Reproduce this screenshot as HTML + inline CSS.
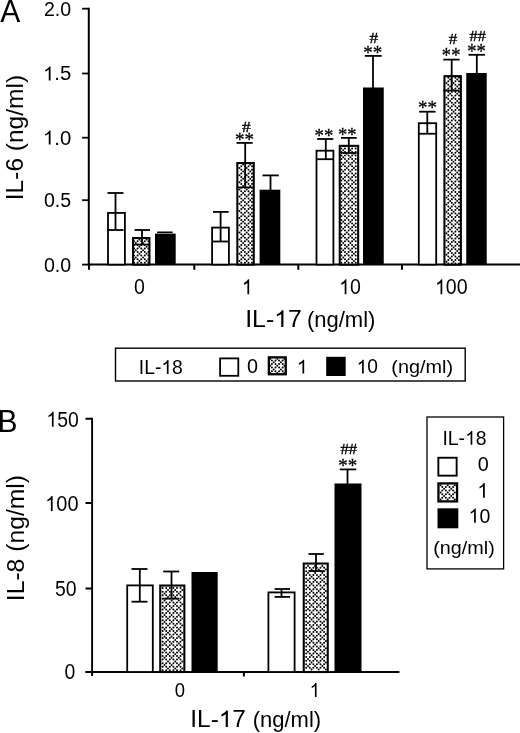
<!DOCTYPE html>
<html><head><meta charset="utf-8"><title>Figure</title>
<style>
html,body{margin:0;padding:0;background:#fff;}
body{width:520px;height:733px;overflow:hidden;font-family:"Liberation Sans",sans-serif;}
svg{display:block;will-change:transform;}
text{fill:#000;}
</style></head><body>
<svg width="520" height="733" viewBox="0 0 520 733">
<rect width="520" height="733" fill="#fff"/>

<text transform="translate(0.3,21.6) scale(1,1.06)" font-size="30" text-anchor="start" font-family='"Liberation Sans", sans-serif' >A</text>
<line x1="88.8" y1="7.85" x2="88.8" y2="265.6" stroke="#000" stroke-width="2" />
<line x1="87.8" y1="264.6" x2="520" y2="264.6" stroke="#000" stroke-width="2" />
<line x1="82.1" y1="8.7" x2="88.8" y2="8.7" stroke="#000" stroke-width="1.8" />
<text transform="translate(71.2,15.6) scale(0.965,1)" font-size="20.3" text-anchor="end" font-family='"Liberation Sans", sans-serif' >2.0</text>
<line x1="82.1" y1="73.5" x2="88.8" y2="73.5" stroke="#000" stroke-width="1.8" />
<g transform="translate(71.2,80.4) scale(1.0,1) translate(-28.217,0)" ><path transform="translate(0,0) scale(20.3)" d="M0.3726,0H0.2847V-0.5377Q0.2529,-0.5086,0.2014,-0.4795Q0.1499,-0.4504,0.1089,-0.4359V-0.5175Q0.1826,-0.5508,0.2378,-0.5981Q0.293,-0.6455,0.3159,-0.69H0.3726Z"/><text x="11.287" y="0" font-size="20.3" font-family='"Liberation Sans", sans-serif' xml:space="preserve">.5</text></g>
<line x1="82.1" y1="137.7" x2="88.8" y2="137.7" stroke="#000" stroke-width="1.8" />
<g transform="translate(71.2,144.6) scale(1.0,1) translate(-28.217,0)" ><path transform="translate(0,0) scale(20.3)" d="M0.3726,0H0.2847V-0.5377Q0.2529,-0.5086,0.2014,-0.4795Q0.1499,-0.4504,0.1089,-0.4359V-0.5175Q0.1826,-0.5508,0.2378,-0.5981Q0.293,-0.6455,0.3159,-0.69H0.3726Z"/><text x="11.287" y="0" font-size="20.3" font-family='"Liberation Sans", sans-serif' xml:space="preserve">.0</text></g>
<line x1="82.1" y1="200.2" x2="88.8" y2="200.2" stroke="#000" stroke-width="1.8" />
<text transform="translate(71.2,207.1) scale(0.965,1)" font-size="20.3" text-anchor="end" font-family='"Liberation Sans", sans-serif' >0.5</text>
<line x1="82.1" y1="264.6" x2="88.8" y2="264.6" stroke="#000" stroke-width="1.8" />
<text transform="translate(71.2,271.5) scale(0.965,1)" font-size="20.3" text-anchor="end" font-family='"Liberation Sans", sans-serif' >0.0</text>
<line x1="89" y1="264.6" x2="89" y2="269.8" stroke="#000" stroke-width="2" />
<line x1="194.3" y1="264.6" x2="194.3" y2="269.8" stroke="#000" stroke-width="2" />
<line x1="298.3" y1="264.6" x2="298.3" y2="269.8" stroke="#000" stroke-width="2" />
<line x1="402" y1="264.6" x2="402" y2="269.8" stroke="#000" stroke-width="2" />
<text transform="translate(139.5,294.2) scale(0.91,1)" font-size="21.5" text-anchor="middle" font-family='"Liberation Sans", sans-serif' >0</text>
<g transform="translate(247.3,294.2) scale(0.91,1) translate(-5.977,0)" ><path transform="translate(0,0) scale(21.5)" d="M0.3726,0H0.2847V-0.5377Q0.2529,-0.5086,0.2014,-0.4795Q0.1499,-0.4504,0.1089,-0.4359V-0.5175Q0.1826,-0.5508,0.2378,-0.5981Q0.293,-0.6455,0.3159,-0.69H0.3726Z"/></g>
<g transform="translate(350,294.2) scale(0.91,1) translate(-11.954,0)" ><path transform="translate(0,0) scale(21.5)" d="M0.3726,0H0.2847V-0.5377Q0.2529,-0.5086,0.2014,-0.4795Q0.1499,-0.4504,0.1089,-0.4359V-0.5175Q0.1826,-0.5508,0.2378,-0.5981Q0.293,-0.6455,0.3159,-0.69H0.3726Z"/><text x="11.954" y="0" font-size="21.5" font-family='"Liberation Sans", sans-serif' xml:space="preserve">0</text></g>
<g transform="translate(451.3,294.2) scale(0.91,1) translate(-17.931,0)" ><path transform="translate(0,0) scale(21.5)" d="M0.3726,0H0.2847V-0.5377Q0.2529,-0.5086,0.2014,-0.4795Q0.1499,-0.4504,0.1089,-0.4359V-0.5175Q0.1826,-0.5508,0.2378,-0.5981Q0.293,-0.6455,0.3159,-0.69H0.3726Z"/><text x="11.954" y="0" font-size="21.5" font-family='"Liberation Sans", sans-serif' xml:space="preserve">00</text></g>
<text transform="translate(22.7,200.2) rotate(-90)" font-size="24.5" font-family='"Liberation Sans", sans-serif'>IL-6 (ng/ml)</text>
<g transform="translate(245.16,326.9) scale(1.033,1) translate(0,0)" ><text x="0" y="0" font-size="24.06" font-family='"Liberation Sans", sans-serif' xml:space="preserve">IL-</text><path transform="translate(28.078,0) scale(24.06)" d="M0.3726,0H0.2847V-0.5377Q0.2529,-0.5086,0.2014,-0.4795Q0.1499,-0.4504,0.1089,-0.4359V-0.5175Q0.1826,-0.5508,0.2378,-0.5981Q0.293,-0.6455,0.3159,-0.69H0.3726Z"/><text x="41.455" y="0" font-size="24.06" font-family='"Liberation Sans", sans-serif' xml:space="preserve">7</text></g>
<text transform="translate(306.88,327.33) scale(1.036,1)" font-size="21.28" text-anchor="start" font-family='"Liberation Sans", sans-serif' >(ng/ml)</text>
<rect x="108.0" y="212.9" width="16.9" height="51.7" fill="#fff" stroke="#000" stroke-width="1.8"/>
<line x1="115.5" y1="193" x2="115.5" y2="230" stroke="#000" stroke-width="1.8" />
<line x1="107.5" y1="193" x2="123.5" y2="193" stroke="#000" stroke-width="1.8" />
<line x1="107.5" y1="230" x2="123.5" y2="230" stroke="#000" stroke-width="1.8" />
<rect x="133.05" y="238.05" width="16.4" height="26.55" fill="#fff"/>
<path d="M139.4,239.5h0M146.6,239.5h0M134.1,241.3h0M137.6,241.3h0M141.2,241.3h0M144.8,241.3h0M148.4,241.3h0M135.8,243.1h0M143.0,243.1h0M134.1,244.9h0M137.6,244.9h0M141.2,244.9h0M144.8,244.9h0M148.4,244.9h0M139.4,246.7h0M146.6,246.7h0M134.1,248.5h0M137.6,248.5h0M141.2,248.5h0M144.8,248.5h0M148.4,248.5h0M135.8,250.2h0M143.0,250.2h0M134.1,252.0h0M137.6,252.0h0M141.2,252.0h0M144.8,252.0h0M148.4,252.0h0M139.4,253.8h0M146.6,253.8h0M134.1,255.6h0M137.6,255.6h0M141.2,255.6h0M144.8,255.6h0M148.4,255.6h0M135.8,257.4h0M143.0,257.4h0M134.1,259.2h0M137.6,259.2h0M141.2,259.2h0M144.8,259.2h0M148.4,259.2h0M139.4,261.0h0M146.6,261.0h0M134.1,262.8h0M137.6,262.8h0M141.2,262.8h0M144.8,262.8h0M148.4,262.8h0" stroke="#000" stroke-width="2.0" stroke-linecap="round" fill="none"/>
<rect x="133.05" y="238.05" width="16.4" height="26.55" fill="none" stroke="#000" stroke-width="2.1"/>
<line x1="142" y1="230" x2="142" y2="244.5" stroke="#000" stroke-width="1.8" />
<line x1="134.5" y1="230" x2="150" y2="230" stroke="#000" stroke-width="1.8" />
<line x1="134.5" y1="244.5" x2="150" y2="244.5" stroke="#000" stroke-width="1.8" />
<rect x="155" y="233.6" width="20.7" height="31.0" fill="#000"/>
<line x1="157.1" y1="232.3" x2="172.7" y2="232.3" stroke="#000" stroke-width="1.6" />
<rect x="212.1" y="227.6" width="16.8" height="37.0" fill="#fff" stroke="#000" stroke-width="1.8"/>
<line x1="220.6" y1="211.9" x2="220.6" y2="241.5" stroke="#000" stroke-width="1.8" />
<line x1="213" y1="211.9" x2="228.6" y2="211.9" stroke="#000" stroke-width="1.8" />
<line x1="213" y1="241.5" x2="228.6" y2="241.5" stroke="#000" stroke-width="1.8" />
<rect x="237.35" y="163.05" width="16.4" height="101.55" fill="#fff"/>
<path d="M243.1,164.5h0M250.2,164.5h0M241.3,166.2h0M244.9,166.2h0M248.5,166.2h0M252.0,166.2h0M239.5,168.0h0M246.7,168.0h0M241.3,169.8h0M244.9,169.8h0M248.5,169.8h0M252.0,169.8h0M243.1,171.6h0M250.2,171.6h0M241.3,173.4h0M244.9,173.4h0M248.5,173.4h0M252.0,173.4h0M239.5,175.2h0M246.7,175.2h0M241.3,177.0h0M244.9,177.0h0M248.5,177.0h0M252.0,177.0h0M243.1,178.8h0M250.2,178.8h0M241.3,180.5h0M244.9,180.5h0M248.5,180.5h0M252.0,180.5h0M239.5,182.3h0M246.7,182.3h0M241.3,184.1h0M244.9,184.1h0M248.5,184.1h0M252.0,184.1h0M243.1,185.9h0M250.2,185.9h0M241.3,187.7h0M244.9,187.7h0M248.5,187.7h0M252.0,187.7h0M239.5,189.5h0M246.7,189.5h0M241.3,191.3h0M244.9,191.3h0M248.5,191.3h0M252.0,191.3h0M243.1,193.1h0M250.2,193.1h0M241.3,194.8h0M244.9,194.8h0M248.5,194.8h0M252.0,194.8h0M239.5,196.6h0M246.7,196.6h0M241.3,198.4h0M244.9,198.4h0M248.5,198.4h0M252.0,198.4h0M243.1,200.2h0M250.2,200.2h0M241.3,202.0h0M244.9,202.0h0M248.5,202.0h0M252.0,202.0h0M239.5,203.8h0M246.7,203.8h0M241.3,205.6h0M244.9,205.6h0M248.5,205.6h0M252.0,205.6h0M243.1,207.4h0M250.2,207.4h0M241.3,209.1h0M244.9,209.1h0M248.5,209.1h0M252.0,209.1h0M239.5,210.9h0M246.7,210.9h0M241.3,212.7h0M244.9,212.7h0M248.5,212.7h0M252.0,212.7h0M243.1,214.5h0M250.2,214.5h0M241.3,216.3h0M244.9,216.3h0M248.5,216.3h0M252.0,216.3h0M239.5,218.1h0M246.7,218.1h0M241.3,219.9h0M244.9,219.9h0M248.5,219.9h0M252.0,219.9h0M243.1,221.7h0M250.2,221.7h0M241.3,223.4h0M244.9,223.4h0M248.5,223.4h0M252.0,223.4h0M239.5,225.2h0M246.7,225.2h0M241.3,227.0h0M244.9,227.0h0M248.5,227.0h0M252.0,227.0h0M243.1,228.8h0M250.2,228.8h0M241.3,230.6h0M244.9,230.6h0M248.5,230.6h0M252.0,230.6h0M239.5,232.4h0M246.7,232.4h0M241.3,234.2h0M244.9,234.2h0M248.5,234.2h0M252.0,234.2h0M243.1,236.0h0M250.2,236.0h0M241.3,237.7h0M244.9,237.7h0M248.5,237.7h0M252.0,237.7h0M239.5,239.5h0M246.7,239.5h0M241.3,241.3h0M244.9,241.3h0M248.5,241.3h0M252.0,241.3h0M243.1,243.1h0M250.2,243.1h0M241.3,244.9h0M244.9,244.9h0M248.5,244.9h0M252.0,244.9h0M239.5,246.7h0M246.7,246.7h0M241.3,248.5h0M244.9,248.5h0M248.5,248.5h0M252.0,248.5h0M243.1,250.2h0M250.2,250.2h0M241.3,252.0h0M244.9,252.0h0M248.5,252.0h0M252.0,252.0h0M239.5,253.8h0M246.7,253.8h0M241.3,255.6h0M244.9,255.6h0M248.5,255.6h0M252.0,255.6h0M243.1,257.4h0M250.2,257.4h0M241.3,259.2h0M244.9,259.2h0M248.5,259.2h0M252.0,259.2h0M239.5,261.0h0M246.7,261.0h0M241.3,262.8h0M244.9,262.8h0M248.5,262.8h0M252.0,262.8h0" stroke="#000" stroke-width="2.0" stroke-linecap="round" fill="none"/>
<rect x="237.35" y="163.05" width="16.4" height="101.55" fill="none" stroke="#000" stroke-width="2.1"/>
<line x1="245.2" y1="142.9" x2="245.2" y2="187.4" stroke="#000" stroke-width="1.8" />
<line x1="236.5" y1="142.9" x2="252.7" y2="142.9" stroke="#000" stroke-width="1.8" />
<line x1="236.5" y1="187.4" x2="252.7" y2="187.4" stroke="#000" stroke-width="1.8" />
<rect x="259.6" y="189.7" width="20.7" height="74.9" fill="#000"/>
<line x1="270.5" y1="175.4" x2="270.5" y2="190" stroke="#000" stroke-width="1.8" />
<line x1="262.5" y1="175.4" x2="278.8" y2="175.4" stroke="#000" stroke-width="1.8" />
<rect x="316.5" y="150.7" width="16.9" height="113.9" fill="#fff" stroke="#000" stroke-width="1.8"/>
<line x1="325.8" y1="139" x2="325.8" y2="159.2" stroke="#000" stroke-width="1.8" />
<line x1="317.1" y1="139" x2="333.3" y2="139" stroke="#000" stroke-width="1.8" />
<line x1="317.1" y1="159.2" x2="333.3" y2="159.2" stroke="#000" stroke-width="1.8" />
<rect x="339.75" y="145.85" width="18.4" height="118.75" fill="#fff"/>
<path d="M341.4,148.4h0M345.0,148.4h0M348.6,148.4h0M352.1,148.4h0M355.7,148.4h0M343.2,150.2h0M350.4,150.2h0M341.4,151.9h0M345.0,151.9h0M348.6,151.9h0M352.1,151.9h0M355.7,151.9h0M346.8,153.7h0M353.9,153.7h0M341.4,155.5h0M345.0,155.5h0M348.6,155.5h0M352.1,155.5h0M355.7,155.5h0M343.2,157.3h0M350.4,157.3h0M341.4,159.1h0M345.0,159.1h0M348.6,159.1h0M352.1,159.1h0M355.7,159.1h0M346.8,160.9h0M353.9,160.9h0M341.4,162.7h0M345.0,162.7h0M348.6,162.7h0M352.1,162.7h0M355.7,162.7h0M343.2,164.5h0M350.4,164.5h0M341.4,166.2h0M345.0,166.2h0M348.6,166.2h0M352.1,166.2h0M355.7,166.2h0M346.8,168.0h0M353.9,168.0h0M341.4,169.8h0M345.0,169.8h0M348.6,169.8h0M352.1,169.8h0M355.7,169.8h0M343.2,171.6h0M350.4,171.6h0M341.4,173.4h0M345.0,173.4h0M348.6,173.4h0M352.1,173.4h0M355.7,173.4h0M346.8,175.2h0M353.9,175.2h0M341.4,177.0h0M345.0,177.0h0M348.6,177.0h0M352.1,177.0h0M355.7,177.0h0M343.2,178.8h0M350.4,178.8h0M341.4,180.5h0M345.0,180.5h0M348.6,180.5h0M352.1,180.5h0M355.7,180.5h0M346.8,182.3h0M353.9,182.3h0M341.4,184.1h0M345.0,184.1h0M348.6,184.1h0M352.1,184.1h0M355.7,184.1h0M343.2,185.9h0M350.4,185.9h0M341.4,187.7h0M345.0,187.7h0M348.6,187.7h0M352.1,187.7h0M355.7,187.7h0M346.8,189.5h0M353.9,189.5h0M341.4,191.3h0M345.0,191.3h0M348.6,191.3h0M352.1,191.3h0M355.7,191.3h0M343.2,193.1h0M350.4,193.1h0M341.4,194.8h0M345.0,194.8h0M348.6,194.8h0M352.1,194.8h0M355.7,194.8h0M346.8,196.6h0M353.9,196.6h0M341.4,198.4h0M345.0,198.4h0M348.6,198.4h0M352.1,198.4h0M355.7,198.4h0M343.2,200.2h0M350.4,200.2h0M341.4,202.0h0M345.0,202.0h0M348.6,202.0h0M352.1,202.0h0M355.7,202.0h0M346.8,203.8h0M353.9,203.8h0M341.4,205.6h0M345.0,205.6h0M348.6,205.6h0M352.1,205.6h0M355.7,205.6h0M343.2,207.4h0M350.4,207.4h0M341.4,209.1h0M345.0,209.1h0M348.6,209.1h0M352.1,209.1h0M355.7,209.1h0M346.8,210.9h0M353.9,210.9h0M341.4,212.7h0M345.0,212.7h0M348.6,212.7h0M352.1,212.7h0M355.7,212.7h0M343.2,214.5h0M350.4,214.5h0M341.4,216.3h0M345.0,216.3h0M348.6,216.3h0M352.1,216.3h0M355.7,216.3h0M346.8,218.1h0M353.9,218.1h0M341.4,219.9h0M345.0,219.9h0M348.6,219.9h0M352.1,219.9h0M355.7,219.9h0M343.2,221.7h0M350.4,221.7h0M341.4,223.4h0M345.0,223.4h0M348.6,223.4h0M352.1,223.4h0M355.7,223.4h0M346.8,225.2h0M353.9,225.2h0M341.4,227.0h0M345.0,227.0h0M348.6,227.0h0M352.1,227.0h0M355.7,227.0h0M343.2,228.8h0M350.4,228.8h0M341.4,230.6h0M345.0,230.6h0M348.6,230.6h0M352.1,230.6h0M355.7,230.6h0M346.8,232.4h0M353.9,232.4h0M341.4,234.2h0M345.0,234.2h0M348.6,234.2h0M352.1,234.2h0M355.7,234.2h0M343.2,236.0h0M350.4,236.0h0M341.4,237.7h0M345.0,237.7h0M348.6,237.7h0M352.1,237.7h0M355.7,237.7h0M346.8,239.5h0M353.9,239.5h0M341.4,241.3h0M345.0,241.3h0M348.6,241.3h0M352.1,241.3h0M355.7,241.3h0M343.2,243.1h0M350.4,243.1h0M341.4,244.9h0M345.0,244.9h0M348.6,244.9h0M352.1,244.9h0M355.7,244.9h0M346.8,246.7h0M353.9,246.7h0M341.4,248.5h0M345.0,248.5h0M348.6,248.5h0M352.1,248.5h0M355.7,248.5h0M343.2,250.2h0M350.4,250.2h0M341.4,252.0h0M345.0,252.0h0M348.6,252.0h0M352.1,252.0h0M355.7,252.0h0M346.8,253.8h0M353.9,253.8h0M341.4,255.6h0M345.0,255.6h0M348.6,255.6h0M352.1,255.6h0M355.7,255.6h0M343.2,257.4h0M350.4,257.4h0M341.4,259.2h0M345.0,259.2h0M348.6,259.2h0M352.1,259.2h0M355.7,259.2h0M346.8,261.0h0M353.9,261.0h0M341.4,262.8h0M345.0,262.8h0M348.6,262.8h0M352.1,262.8h0M355.7,262.8h0" stroke="#000" stroke-width="2.0" stroke-linecap="round" fill="none"/>
<rect x="339.75" y="145.85" width="18.4" height="118.75" fill="none" stroke="#000" stroke-width="2.1"/>
<line x1="348.8" y1="137.9" x2="348.8" y2="153" stroke="#000" stroke-width="1.8" />
<line x1="341" y1="137.9" x2="356.7" y2="137.9" stroke="#000" stroke-width="1.8" />
<line x1="341" y1="153" x2="356.7" y2="153" stroke="#000" stroke-width="1.8" />
<rect x="363" y="87.5" width="20.75" height="177.1" fill="#000"/>
<line x1="373" y1="55.9" x2="373" y2="88" stroke="#000" stroke-width="1.8" />
<line x1="364.8" y1="55.9" x2="381.7" y2="55.9" stroke="#000" stroke-width="1.8" />
<rect x="418.8" y="123.2" width="17.4" height="141.4" fill="#fff" stroke="#000" stroke-width="1.8"/>
<line x1="427.3" y1="111.7" x2="427.3" y2="133.75" stroke="#000" stroke-width="1.8" />
<line x1="419.1" y1="111.7" x2="435.6" y2="111.7" stroke="#000" stroke-width="1.8" />
<line x1="419.1" y1="133.75" x2="435.6" y2="133.75" stroke="#000" stroke-width="1.8" />
<rect x="444.45" y="76.15" width="16.4" height="188.45" fill="#fff"/>
<path d="M448.3,77.7h0M451.8,77.7h0M455.4,77.7h0M459.0,77.7h0M450.1,79.5h0M457.2,79.5h0M448.3,81.3h0M451.8,81.3h0M455.4,81.3h0M459.0,81.3h0M446.5,83.1h0M453.6,83.1h0M448.3,84.8h0M451.8,84.8h0M455.4,84.8h0M459.0,84.8h0M450.1,86.6h0M457.2,86.6h0M448.3,88.4h0M451.8,88.4h0M455.4,88.4h0M459.0,88.4h0M446.5,90.2h0M453.6,90.2h0M448.3,92.0h0M451.8,92.0h0M455.4,92.0h0M459.0,92.0h0M450.1,93.8h0M457.2,93.8h0M448.3,95.6h0M451.8,95.6h0M455.4,95.6h0M459.0,95.6h0M446.5,97.4h0M453.6,97.4h0M448.3,99.1h0M451.8,99.1h0M455.4,99.1h0M459.0,99.1h0M450.1,100.9h0M457.2,100.9h0M448.3,102.7h0M451.8,102.7h0M455.4,102.7h0M459.0,102.7h0M446.5,104.5h0M453.6,104.5h0M448.3,106.3h0M451.8,106.3h0M455.4,106.3h0M459.0,106.3h0M450.1,108.1h0M457.2,108.1h0M448.3,109.9h0M451.8,109.9h0M455.4,109.9h0M459.0,109.9h0M446.5,111.7h0M453.6,111.7h0M448.3,113.4h0M451.8,113.4h0M455.4,113.4h0M459.0,113.4h0M450.1,115.2h0M457.2,115.2h0M448.3,117.0h0M451.8,117.0h0M455.4,117.0h0M459.0,117.0h0M446.5,118.8h0M453.6,118.8h0M448.3,120.6h0M451.8,120.6h0M455.4,120.6h0M459.0,120.6h0M450.1,122.4h0M457.2,122.4h0M448.3,124.2h0M451.8,124.2h0M455.4,124.2h0M459.0,124.2h0M446.5,126.0h0M453.6,126.0h0M448.3,127.7h0M451.8,127.7h0M455.4,127.7h0M459.0,127.7h0M450.1,129.5h0M457.2,129.5h0M448.3,131.3h0M451.8,131.3h0M455.4,131.3h0M459.0,131.3h0M446.5,133.1h0M453.6,133.1h0M448.3,134.9h0M451.8,134.9h0M455.4,134.9h0M459.0,134.9h0M450.1,136.7h0M457.2,136.7h0M448.3,138.5h0M451.8,138.5h0M455.4,138.5h0M459.0,138.5h0M446.5,140.3h0M453.6,140.3h0M448.3,142.0h0M451.8,142.0h0M455.4,142.0h0M459.0,142.0h0M450.1,143.8h0M457.2,143.8h0M448.3,145.6h0M451.8,145.6h0M455.4,145.6h0M459.0,145.6h0M446.5,147.4h0M453.6,147.4h0M448.3,149.2h0M451.8,149.2h0M455.4,149.2h0M459.0,149.2h0M450.1,151.0h0M457.2,151.0h0M448.3,152.8h0M451.8,152.8h0M455.4,152.8h0M459.0,152.8h0M446.5,154.6h0M453.6,154.6h0M448.3,156.3h0M451.8,156.3h0M455.4,156.3h0M459.0,156.3h0M450.1,158.1h0M457.2,158.1h0M448.3,159.9h0M451.8,159.9h0M455.4,159.9h0M459.0,159.9h0M446.5,161.7h0M453.6,161.7h0M448.3,163.5h0M451.8,163.5h0M455.4,163.5h0M459.0,163.5h0M450.1,165.3h0M457.2,165.3h0M448.3,167.1h0M451.8,167.1h0M455.4,167.1h0M459.0,167.1h0M446.5,168.9h0M453.6,168.9h0M448.3,170.6h0M451.8,170.6h0M455.4,170.6h0M459.0,170.6h0M450.1,172.4h0M457.2,172.4h0M448.3,174.2h0M451.8,174.2h0M455.4,174.2h0M459.0,174.2h0M446.5,176.0h0M453.6,176.0h0M448.3,177.8h0M451.8,177.8h0M455.4,177.8h0M459.0,177.8h0M450.1,179.6h0M457.2,179.6h0M448.3,181.4h0M451.8,181.4h0M455.4,181.4h0M459.0,181.4h0M446.5,183.2h0M453.6,183.2h0M448.3,184.9h0M451.8,184.9h0M455.4,184.9h0M459.0,184.9h0M450.1,186.7h0M457.2,186.7h0M448.3,188.5h0M451.8,188.5h0M455.4,188.5h0M459.0,188.5h0M446.5,190.3h0M453.6,190.3h0M448.3,192.1h0M451.8,192.1h0M455.4,192.1h0M459.0,192.1h0M450.1,193.9h0M457.2,193.9h0M448.3,195.7h0M451.8,195.7h0M455.4,195.7h0M459.0,195.7h0M446.5,197.5h0M453.6,197.5h0M448.3,199.2h0M451.8,199.2h0M455.4,199.2h0M459.0,199.2h0M450.1,201.0h0M457.2,201.0h0M448.3,202.8h0M451.8,202.8h0M455.4,202.8h0M459.0,202.8h0M446.5,204.6h0M453.6,204.6h0M448.3,206.4h0M451.8,206.4h0M455.4,206.4h0M459.0,206.4h0M450.1,208.2h0M457.2,208.2h0M448.3,210.0h0M451.8,210.0h0M455.4,210.0h0M459.0,210.0h0M446.5,211.8h0M453.6,211.8h0M448.3,213.5h0M451.8,213.5h0M455.4,213.5h0M459.0,213.5h0M450.1,215.3h0M457.2,215.3h0M448.3,217.1h0M451.8,217.1h0M455.4,217.1h0M459.0,217.1h0M446.5,218.9h0M453.6,218.9h0M448.3,220.7h0M451.8,220.7h0M455.4,220.7h0M459.0,220.7h0M450.1,222.5h0M457.2,222.5h0M448.3,224.3h0M451.8,224.3h0M455.4,224.3h0M459.0,224.3h0M446.5,226.1h0M453.6,226.1h0M448.3,227.8h0M451.8,227.8h0M455.4,227.8h0M459.0,227.8h0M450.1,229.6h0M457.2,229.6h0M448.3,231.4h0M451.8,231.4h0M455.4,231.4h0M459.0,231.4h0M446.5,233.2h0M453.6,233.2h0M448.3,235.0h0M451.8,235.0h0M455.4,235.0h0M459.0,235.0h0M450.1,236.8h0M457.2,236.8h0M448.3,238.6h0M451.8,238.6h0M455.4,238.6h0M459.0,238.6h0M446.5,240.4h0M453.6,240.4h0M448.3,242.1h0M451.8,242.1h0M455.4,242.1h0M459.0,242.1h0M450.1,243.9h0M457.2,243.9h0M448.3,245.7h0M451.8,245.7h0M455.4,245.7h0M459.0,245.7h0M446.5,247.5h0M453.6,247.5h0M448.3,249.3h0M451.8,249.3h0M455.4,249.3h0M459.0,249.3h0M450.1,251.1h0M457.2,251.1h0M448.3,252.9h0M451.8,252.9h0M455.4,252.9h0M459.0,252.9h0M446.5,254.7h0M453.6,254.7h0M448.3,256.4h0M451.8,256.4h0M455.4,256.4h0M459.0,256.4h0M450.1,258.2h0M457.2,258.2h0M448.3,260.0h0M451.8,260.0h0M455.4,260.0h0M459.0,260.0h0M446.5,261.8h0M453.6,261.8h0M448.3,263.6h0M451.8,263.6h0M455.4,263.6h0M459.0,263.6h0" stroke="#000" stroke-width="2.0" stroke-linecap="round" fill="none"/>
<rect x="444.45" y="76.15" width="16.4" height="188.45" fill="none" stroke="#000" stroke-width="2.1"/>
<line x1="451.7" y1="59.6" x2="451.7" y2="90.6" stroke="#000" stroke-width="1.8" />
<line x1="443.3" y1="59.6" x2="459.6" y2="59.6" stroke="#000" stroke-width="1.8" />
<line x1="443.3" y1="90.6" x2="459.6" y2="90.6" stroke="#000" stroke-width="1.8" />
<rect x="466.25" y="73" width="20.5" height="191.6" fill="#000"/>
<line x1="476.8" y1="54.8" x2="476.8" y2="74" stroke="#000" stroke-width="1.8" />
<line x1="468.5" y1="54.8" x2="485" y2="54.8" stroke="#000" stroke-width="1.8" />
<text transform="translate(234.95,146.09) scale(1.005,1)" font-size="18.9" text-anchor="start" font-family='"Liberation Serif", serif' stroke="#000" stroke-width="0.3">**</text>
<text transform="translate(242.06,132.2) scale(1.188,1)" font-size="14.46" text-anchor="start" font-family='"Liberation Serif", serif' stroke="#000" stroke-width="0.35">#</text>
<text transform="translate(314.56,142.39) scale(0.993,1)" font-size="18.9" text-anchor="start" font-family='"Liberation Serif", serif' stroke="#000" stroke-width="0.3">**</text>
<text transform="translate(338.07,140.92) scale(0.941,1)" font-size="19.73" text-anchor="start" font-family='"Liberation Serif", serif' stroke="#000" stroke-width="0.3">**</text>
<text transform="translate(363.35,59.12) scale(0.963,1)" font-size="19.73" text-anchor="start" font-family='"Liberation Serif", serif' stroke="#000" stroke-width="0.3">**</text>
<text transform="translate(369.55,42.6) scale(1.154,1)" font-size="15.08" text-anchor="start" font-family='"Liberation Serif", serif' stroke="#000" stroke-width="0.35">#</text>
<text transform="translate(417.96,113.71) scale(1.014,1)" font-size="18.63" text-anchor="start" font-family='"Liberation Serif", serif' stroke="#000" stroke-width="0.3">**</text>
<text transform="translate(441.87,62.18) scale(0.915,1)" font-size="20.27" text-anchor="start" font-family='"Liberation Serif", serif' stroke="#000" stroke-width="0.3">**</text>
<text transform="translate(448.76,44.3) scale(1.125,1)" font-size="15.08" text-anchor="start" font-family='"Liberation Serif", serif' stroke="#000" stroke-width="0.35">#</text>
<text transform="translate(467.27,57.66) scale(0.903,1)" font-size="20.55" text-anchor="start" font-family='"Liberation Serif", serif' stroke="#000" stroke-width="0.3">**</text>
<text transform="translate(469.58,40.9) scale(1.078,1)" font-size="15.08" text-anchor="start" font-family='"Liberation Serif", serif' stroke="#000" stroke-width="0.35">##</text>
<rect x="115.5" y="348.2" width="349.7" height="32.8" fill="#fff" stroke="#000" stroke-width="1.4"/>
<g transform="translate(138.76,374.1) scale(0.954,1) translate(0,0)" ><text x="0" y="0" font-size="20.28" font-family='"Liberation Sans", sans-serif' xml:space="preserve">IL-</text><path transform="translate(23.667,0) scale(20.28)" d="M0.3726,0H0.2847V-0.5377Q0.2529,-0.5086,0.2014,-0.4795Q0.1499,-0.4504,0.1089,-0.4359V-0.5175Q0.1826,-0.5508,0.2378,-0.5981Q0.293,-0.6455,0.3159,-0.69H0.3726Z"/><text x="34.942" y="0" font-size="20.28" font-family='"Liberation Sans", sans-serif' xml:space="preserve">8</text></g>
<rect x="220.1" y="358.4" width="18.2" height="17.4" fill="#fff" stroke="#000" stroke-width="1.8"/>
<text transform="translate(247.0,373.4) scale(1,1)" font-size="19.8" text-anchor="start" font-family='"Liberation Sans", sans-serif' >0</text>
<rect x="268.85" y="357.35" width="16.9" height="16.9" fill="#fff"/>
<path d="M270.2,358.7h0M277.3,358.7h0M284.4,358.7h0M271.9,360.4h0M275.5,360.4h0M279.1,360.4h0M282.7,360.4h0M273.7,362.2h0M280.9,362.2h0M271.9,364.0h0M275.5,364.0h0M279.1,364.0h0M282.7,364.0h0M270.2,365.8h0M277.3,365.8h0M284.4,365.8h0M271.9,367.6h0M275.5,367.6h0M279.1,367.6h0M282.7,367.6h0M273.7,369.4h0M280.9,369.4h0M271.9,371.2h0M275.5,371.2h0M279.1,371.2h0M282.7,371.2h0M270.2,372.9h0M277.3,372.9h0M284.4,372.9h0" stroke="#000" stroke-width="2.0" stroke-linecap="round" fill="none"/>
<rect x="268.85" y="357.35" width="16.9" height="16.9" fill="none" stroke="#000" stroke-width="2.3"/>
<g transform="translate(296.8,373.4) scale(1,1) translate(0,0)" ><path transform="translate(0,0) scale(19.8)" d="M0.3726,0H0.2847V-0.5377Q0.2529,-0.5086,0.2014,-0.4795Q0.1499,-0.4504,0.1089,-0.4359V-0.5175Q0.1826,-0.5508,0.2378,-0.5981Q0.293,-0.6455,0.3159,-0.69H0.3726Z"/></g>
<rect x="326.2" y="356.8" width="19.5" height="19.2" fill="#000"/>
<g transform="translate(356.6,373.4) scale(0.97,1) translate(0,0)" ><path transform="translate(0,0) scale(19.8)" d="M0.3726,0H0.2847V-0.5377Q0.2529,-0.5086,0.2014,-0.4795Q0.1499,-0.4504,0.1089,-0.4359V-0.5175Q0.1826,-0.5508,0.2378,-0.5981Q0.293,-0.6455,0.3159,-0.69H0.3726Z"/><text x="11.009" y="0" font-size="19.8" font-family='"Liberation Sans", sans-serif' xml:space="preserve">0</text></g>
<text transform="translate(391.31,373.24) scale(1.078,1)" font-size="18.4" text-anchor="start" font-family='"Liberation Sans", sans-serif' >(ng/ml)</text>
<text transform="translate(-2.4,431.6) scale(1,1.058)" font-size="30" text-anchor="start" font-family='"Liberation Sans", sans-serif' >B</text>
<line x1="92.1" y1="417.75" x2="92.1" y2="676" stroke="#000" stroke-width="1.9" />
<line x1="85.5" y1="672" x2="399.4" y2="672" stroke="#000" stroke-width="1.9" />
<line x1="85.5" y1="418.75" x2="92.1" y2="418.75" stroke="#000" stroke-width="2" />
<g transform="translate(78.8,426.65) scale(0.9,1) translate(-36.029,0)" ><path transform="translate(0,0) scale(21.6)" d="M0.3726,0H0.2847V-0.5377Q0.2529,-0.5086,0.2014,-0.4795Q0.1499,-0.4504,0.1089,-0.4359V-0.5175Q0.1826,-0.5508,0.2378,-0.5981Q0.293,-0.6455,0.3159,-0.69H0.3726Z"/><text x="12.01" y="0" font-size="21.6" font-family='"Liberation Sans", sans-serif' xml:space="preserve">50</text></g>
<line x1="85.5" y1="503" x2="92.1" y2="503" stroke="#000" stroke-width="2" />
<g transform="translate(78.5,510.9) scale(0.925,1) translate(-36.029,0)" ><path transform="translate(0,0) scale(21.6)" d="M0.3726,0H0.2847V-0.5377Q0.2529,-0.5086,0.2014,-0.4795Q0.1499,-0.4504,0.1089,-0.4359V-0.5175Q0.1826,-0.5508,0.2378,-0.5981Q0.293,-0.6455,0.3159,-0.69H0.3726Z"/><text x="12.01" y="0" font-size="21.6" font-family='"Liberation Sans", sans-serif' xml:space="preserve">00</text></g>
<line x1="85.5" y1="588.5" x2="92.1" y2="588.5" stroke="#000" stroke-width="2" />
<text transform="translate(76.6,596.4) scale(0.9,1)" font-size="21.6" text-anchor="end" font-family='"Liberation Sans", sans-serif' >50</text>
<line x1="85.5" y1="672" x2="92.1" y2="672" stroke="#000" stroke-width="2" />
<text transform="translate(75.2,679.0) scale(0.9,1)" font-size="21.6" text-anchor="end" font-family='"Liberation Sans", sans-serif' >0</text>
<line x1="243.9" y1="672" x2="243.9" y2="676.5" stroke="#000" stroke-width="2" />
<text transform="translate(179.8,697) scale(0.9,1)" font-size="20.5" text-anchor="middle" font-family='"Liberation Sans", sans-serif' >0</text>
<g transform="translate(314.8,697) scale(0.9,1) translate(-5.699,0)" ><path transform="translate(0,0) scale(20.5)" d="M0.3726,0H0.2847V-0.5377Q0.2529,-0.5086,0.2014,-0.4795Q0.1499,-0.4504,0.1089,-0.4359V-0.5175Q0.1826,-0.5508,0.2378,-0.5981Q0.293,-0.6455,0.3159,-0.69H0.3726Z"/></g>
<text transform="translate(24.4,601.2) rotate(-90)" font-size="24.7" font-family='"Liberation Sans", sans-serif'>IL-8 (ng/ml)</text>
<g transform="translate(190.3,727.0) scale(1.014,1) translate(0,0)" ><text x="0" y="0" font-size="24.06" font-family='"Liberation Sans", sans-serif' xml:space="preserve">IL-</text><path transform="translate(28.078,0) scale(24.06)" d="M0.3726,0H0.2847V-0.5377Q0.2529,-0.5086,0.2014,-0.4795Q0.1499,-0.4504,0.1089,-0.4359V-0.5175Q0.1826,-0.5508,0.2378,-0.5981Q0.293,-0.6455,0.3159,-0.69H0.3726Z"/><text x="41.455" y="0" font-size="24.06" font-family='"Liberation Sans", sans-serif' xml:space="preserve">7</text></g>
<text transform="translate(252.68,727.15) scale(0.994,1)" font-size="22.14" text-anchor="start" font-family='"Liberation Sans", sans-serif' >(ng/ml)</text>
<rect x="127.2" y="585.4" width="25.6" height="86.6" fill="#fff" stroke="#000" stroke-width="1.8"/>
<line x1="139.8" y1="569" x2="139.8" y2="601.7" stroke="#000" stroke-width="1.8" />
<line x1="131.5" y1="569" x2="147.5" y2="569" stroke="#000" stroke-width="1.8" />
<line x1="131.5" y1="601.7" x2="147.5" y2="601.7" stroke="#000" stroke-width="1.8" />
<rect x="160.25" y="585.55" width="24.1" height="86.45" fill="#fff"/>
<path d="M162.7,588.1h0M166.2,588.1h0M169.8,588.1h0M173.4,588.1h0M177.0,588.1h0M180.5,588.1h0M168.0,589.9h0M175.2,589.9h0M182.3,589.9h0M162.7,591.7h0M166.2,591.7h0M169.8,591.7h0M173.4,591.7h0M177.0,591.7h0M180.5,591.7h0M164.5,593.5h0M171.6,593.5h0M178.8,593.5h0M162.7,595.2h0M166.2,595.2h0M169.8,595.2h0M173.4,595.2h0M177.0,595.2h0M180.5,595.2h0M168.0,597.0h0M175.2,597.0h0M182.3,597.0h0M162.7,598.8h0M166.2,598.8h0M169.8,598.8h0M173.4,598.8h0M177.0,598.8h0M180.5,598.8h0M164.5,600.6h0M171.6,600.6h0M178.8,600.6h0M162.7,602.4h0M166.2,602.4h0M169.8,602.4h0M173.4,602.4h0M177.0,602.4h0M180.5,602.4h0M168.0,604.2h0M175.2,604.2h0M182.3,604.2h0M162.7,606.0h0M166.2,606.0h0M169.8,606.0h0M173.4,606.0h0M177.0,606.0h0M180.5,606.0h0M164.5,607.8h0M171.6,607.8h0M178.8,607.8h0M162.7,609.5h0M166.2,609.5h0M169.8,609.5h0M173.4,609.5h0M177.0,609.5h0M180.5,609.5h0M168.0,611.3h0M175.2,611.3h0M182.3,611.3h0M162.7,613.1h0M166.2,613.1h0M169.8,613.1h0M173.4,613.1h0M177.0,613.1h0M180.5,613.1h0M164.5,614.9h0M171.6,614.9h0M178.8,614.9h0M162.7,616.7h0M166.2,616.7h0M169.8,616.7h0M173.4,616.7h0M177.0,616.7h0M180.5,616.7h0M168.0,618.5h0M175.2,618.5h0M182.3,618.5h0M162.7,620.3h0M166.2,620.3h0M169.8,620.3h0M173.4,620.3h0M177.0,620.3h0M180.5,620.3h0M164.5,622.1h0M171.6,622.1h0M178.8,622.1h0M162.7,623.8h0M166.2,623.8h0M169.8,623.8h0M173.4,623.8h0M177.0,623.8h0M180.5,623.8h0M168.0,625.6h0M175.2,625.6h0M182.3,625.6h0M162.7,627.4h0M166.2,627.4h0M169.8,627.4h0M173.4,627.4h0M177.0,627.4h0M180.5,627.4h0M164.5,629.2h0M171.6,629.2h0M178.8,629.2h0M162.7,631.0h0M166.2,631.0h0M169.8,631.0h0M173.4,631.0h0M177.0,631.0h0M180.5,631.0h0M168.0,632.8h0M175.2,632.8h0M182.3,632.8h0M162.7,634.6h0M166.2,634.6h0M169.8,634.6h0M173.4,634.6h0M177.0,634.6h0M180.5,634.6h0M164.5,636.4h0M171.6,636.4h0M178.8,636.4h0M162.7,638.1h0M166.2,638.1h0M169.8,638.1h0M173.4,638.1h0M177.0,638.1h0M180.5,638.1h0M168.0,639.9h0M175.2,639.9h0M182.3,639.9h0M162.7,641.7h0M166.2,641.7h0M169.8,641.7h0M173.4,641.7h0M177.0,641.7h0M180.5,641.7h0M164.5,643.5h0M171.6,643.5h0M178.8,643.5h0M162.7,645.3h0M166.2,645.3h0M169.8,645.3h0M173.4,645.3h0M177.0,645.3h0M180.5,645.3h0M168.0,647.1h0M175.2,647.1h0M182.3,647.1h0M162.7,648.9h0M166.2,648.9h0M169.8,648.9h0M173.4,648.9h0M177.0,648.9h0M180.5,648.9h0M164.5,650.6h0M171.6,650.6h0M178.8,650.6h0M162.7,652.4h0M166.2,652.4h0M169.8,652.4h0M173.4,652.4h0M177.0,652.4h0M180.5,652.4h0M168.0,654.2h0M175.2,654.2h0M182.3,654.2h0M162.7,656.0h0M166.2,656.0h0M169.8,656.0h0M173.4,656.0h0M177.0,656.0h0M180.5,656.0h0M164.5,657.8h0M171.6,657.8h0M178.8,657.8h0M162.7,659.6h0M166.2,659.6h0M169.8,659.6h0M173.4,659.6h0M177.0,659.6h0M180.5,659.6h0M168.0,661.4h0M175.2,661.4h0M182.3,661.4h0M162.7,663.2h0M166.2,663.2h0M169.8,663.2h0M173.4,663.2h0M177.0,663.2h0M180.5,663.2h0M164.5,665.0h0M171.6,665.0h0M178.8,665.0h0M162.7,666.7h0M166.2,666.7h0M169.8,666.7h0M173.4,666.7h0M177.0,666.7h0M180.5,666.7h0M168.0,668.5h0M175.2,668.5h0M182.3,668.5h0M162.7,670.3h0M166.2,670.3h0M169.8,670.3h0M173.4,670.3h0M177.0,670.3h0M180.5,670.3h0" stroke="#000" stroke-width="2.0" stroke-linecap="round" fill="none"/>
<rect x="160.25" y="585.55" width="24.1" height="86.45" fill="none" stroke="#000" stroke-width="2.1"/>
<line x1="171.5" y1="571.5" x2="171.5" y2="598.6" stroke="#000" stroke-width="1.8" />
<line x1="163.2" y1="571.5" x2="179.2" y2="571.5" stroke="#000" stroke-width="1.8" />
<line x1="163.2" y1="598.6" x2="179.2" y2="598.6" stroke="#000" stroke-width="1.8" />
<rect x="191.5" y="572" width="26.2" height="100" fill="#000"/>
<rect x="268.4" y="592.4" width="26.2" height="79.6" fill="#fff" stroke="#000" stroke-width="1.8"/>
<line x1="281.5" y1="589.0" x2="281.5" y2="596.9" stroke="#000" stroke-width="1.8" />
<line x1="274.6" y1="589.0" x2="290" y2="589.0" stroke="#000" stroke-width="1.8" />
<line x1="274.6" y1="596.9" x2="290" y2="596.9" stroke="#000" stroke-width="1.8" />
<rect x="303.75" y="563.55" width="24.0" height="108.45" fill="#fff"/>
<path d="M308.0,566.0h0M315.1,566.0h0M322.3,566.0h0M306.2,567.7h0M309.8,567.7h0M313.4,567.7h0M316.9,567.7h0M320.5,567.7h0M324.1,567.7h0M311.6,569.5h0M318.7,569.5h0M325.9,569.5h0M306.2,571.3h0M309.8,571.3h0M313.4,571.3h0M316.9,571.3h0M320.5,571.3h0M324.1,571.3h0M308.0,573.1h0M315.1,573.1h0M322.3,573.1h0M306.2,574.9h0M309.8,574.9h0M313.4,574.9h0M316.9,574.9h0M320.5,574.9h0M324.1,574.9h0M311.6,576.7h0M318.7,576.7h0M325.9,576.7h0M306.2,578.5h0M309.8,578.5h0M313.4,578.5h0M316.9,578.5h0M320.5,578.5h0M324.1,578.5h0M308.0,580.2h0M315.1,580.2h0M322.3,580.2h0M306.2,582.0h0M309.8,582.0h0M313.4,582.0h0M316.9,582.0h0M320.5,582.0h0M324.1,582.0h0M311.6,583.8h0M318.7,583.8h0M325.9,583.8h0M306.2,585.6h0M309.8,585.6h0M313.4,585.6h0M316.9,585.6h0M320.5,585.6h0M324.1,585.6h0M308.0,587.4h0M315.1,587.4h0M322.3,587.4h0M306.2,589.2h0M309.8,589.2h0M313.4,589.2h0M316.9,589.2h0M320.5,589.2h0M324.1,589.2h0M311.6,591.0h0M318.7,591.0h0M325.9,591.0h0M306.2,592.8h0M309.8,592.8h0M313.4,592.8h0M316.9,592.8h0M320.5,592.8h0M324.1,592.8h0M308.0,594.5h0M315.1,594.5h0M322.3,594.5h0M306.2,596.3h0M309.8,596.3h0M313.4,596.3h0M316.9,596.3h0M320.5,596.3h0M324.1,596.3h0M311.6,598.1h0M318.7,598.1h0M325.9,598.1h0M306.2,599.9h0M309.8,599.9h0M313.4,599.9h0M316.9,599.9h0M320.5,599.9h0M324.1,599.9h0M308.0,601.7h0M315.1,601.7h0M322.3,601.7h0M306.2,603.5h0M309.8,603.5h0M313.4,603.5h0M316.9,603.5h0M320.5,603.5h0M324.1,603.5h0M311.6,605.3h0M318.7,605.3h0M325.9,605.3h0M306.2,607.1h0M309.8,607.1h0M313.4,607.1h0M316.9,607.1h0M320.5,607.1h0M324.1,607.1h0M308.0,608.9h0M315.1,608.9h0M322.3,608.9h0M306.2,610.6h0M309.8,610.6h0M313.4,610.6h0M316.9,610.6h0M320.5,610.6h0M324.1,610.6h0M311.6,612.4h0M318.7,612.4h0M325.9,612.4h0M306.2,614.2h0M309.8,614.2h0M313.4,614.2h0M316.9,614.2h0M320.5,614.2h0M324.1,614.2h0M308.0,616.0h0M315.1,616.0h0M322.3,616.0h0M306.2,617.8h0M309.8,617.8h0M313.4,617.8h0M316.9,617.8h0M320.5,617.8h0M324.1,617.8h0M311.6,619.6h0M318.7,619.6h0M325.9,619.6h0M306.2,621.4h0M309.8,621.4h0M313.4,621.4h0M316.9,621.4h0M320.5,621.4h0M324.1,621.4h0M308.0,623.1h0M315.1,623.1h0M322.3,623.1h0M306.2,624.9h0M309.8,624.9h0M313.4,624.9h0M316.9,624.9h0M320.5,624.9h0M324.1,624.9h0M311.6,626.7h0M318.7,626.7h0M325.9,626.7h0M306.2,628.5h0M309.8,628.5h0M313.4,628.5h0M316.9,628.5h0M320.5,628.5h0M324.1,628.5h0M308.0,630.3h0M315.1,630.3h0M322.3,630.3h0M306.2,632.1h0M309.8,632.1h0M313.4,632.1h0M316.9,632.1h0M320.5,632.1h0M324.1,632.1h0M311.6,633.9h0M318.7,633.9h0M325.9,633.9h0M306.2,635.7h0M309.8,635.7h0M313.4,635.7h0M316.9,635.7h0M320.5,635.7h0M324.1,635.7h0M308.0,637.5h0M315.1,637.5h0M322.3,637.5h0M306.2,639.2h0M309.8,639.2h0M313.4,639.2h0M316.9,639.2h0M320.5,639.2h0M324.1,639.2h0M311.6,641.0h0M318.7,641.0h0M325.9,641.0h0M306.2,642.8h0M309.8,642.8h0M313.4,642.8h0M316.9,642.8h0M320.5,642.8h0M324.1,642.8h0M308.0,644.6h0M315.1,644.6h0M322.3,644.6h0M306.2,646.4h0M309.8,646.4h0M313.4,646.4h0M316.9,646.4h0M320.5,646.4h0M324.1,646.4h0M311.6,648.2h0M318.7,648.2h0M325.9,648.2h0M306.2,650.0h0M309.8,650.0h0M313.4,650.0h0M316.9,650.0h0M320.5,650.0h0M324.1,650.0h0M308.0,651.8h0M315.1,651.8h0M322.3,651.8h0M306.2,653.5h0M309.8,653.5h0M313.4,653.5h0M316.9,653.5h0M320.5,653.5h0M324.1,653.5h0M311.6,655.3h0M318.7,655.3h0M325.9,655.3h0M306.2,657.1h0M309.8,657.1h0M313.4,657.1h0M316.9,657.1h0M320.5,657.1h0M324.1,657.1h0M308.0,658.9h0M315.1,658.9h0M322.3,658.9h0M306.2,660.7h0M309.8,660.7h0M313.4,660.7h0M316.9,660.7h0M320.5,660.7h0M324.1,660.7h0M311.6,662.5h0M318.7,662.5h0M325.9,662.5h0M306.2,664.3h0M309.8,664.3h0M313.4,664.3h0M316.9,664.3h0M320.5,664.3h0M324.1,664.3h0M308.0,666.0h0M315.1,666.0h0M322.3,666.0h0M306.2,667.8h0M309.8,667.8h0M313.4,667.8h0M316.9,667.8h0M320.5,667.8h0M324.1,667.8h0M311.6,669.6h0M318.7,669.6h0M325.9,669.6h0" stroke="#000" stroke-width="2.0" stroke-linecap="round" fill="none"/>
<rect x="303.75" y="563.55" width="24.0" height="108.45" fill="none" stroke="#000" stroke-width="2.1"/>
<line x1="316.0" y1="554.0" x2="316.0" y2="571" stroke="#000" stroke-width="1.8" />
<line x1="308.5" y1="554.0" x2="323.8" y2="554.0" stroke="#000" stroke-width="1.8" />
<line x1="308.5" y1="571" x2="323.8" y2="571" stroke="#000" stroke-width="1.8" />
<rect x="334.5" y="483.5" width="27.0" height="188.5" fill="#000"/>
<line x1="347.5" y1="469.4" x2="347.5" y2="484" stroke="#000" stroke-width="1.8" />
<line x1="339.8" y1="469.4" x2="356.3" y2="469.4" stroke="#000" stroke-width="1.8" />
<text transform="translate(338.35,471.94) scale(0.977,1)" font-size="19.45" text-anchor="start" font-family='"Liberation Serif", serif' stroke="#000" stroke-width="0.3">**</text>
<text transform="translate(340.46,454.3) scale(1.112,1)" font-size="15.08" text-anchor="start" font-family='"Liberation Serif", serif' stroke="#000" stroke-width="0.35">##</text>
<rect x="427.0" y="417.0" width="76.6" height="151.9" fill="#fff" stroke="#000" stroke-width="1.3"/>
<g transform="translate(442.45,444.8) scale(0.963,1) translate(0,0)" ><text x="0" y="0" font-size="20.14" font-family='"Liberation Sans", sans-serif' xml:space="preserve">IL-</text><path transform="translate(23.503,0) scale(20.14)" d="M0.3726,0H0.2847V-0.5377Q0.2529,-0.5086,0.2014,-0.4795Q0.1499,-0.4504,0.1089,-0.4359V-0.5175Q0.1826,-0.5508,0.2378,-0.5981Q0.293,-0.6455,0.3159,-0.69H0.3726Z"/><text x="34.701" y="0" font-size="20.14" font-family='"Liberation Sans", sans-serif' xml:space="preserve">8</text></g>
<rect x="438.35" y="457.75" width="18.3" height="17.9" fill="#fff" stroke="#000" stroke-width="1.9"/>
<text transform="translate(483.2,471.4) scale(0.96,1)" font-size="20.6" text-anchor="middle" font-family='"Liberation Sans", sans-serif' >0</text>
<rect x="438.45" y="483.4" width="18.6" height="18" fill="#fff"/>
<path d="M440.6,485.2h0M447.7,485.2h0M454.8,485.2h0M442.3,487.0h0M445.9,487.0h0M449.5,487.0h0M453.1,487.0h0M444.1,488.8h0M451.3,488.8h0M442.3,490.6h0M445.9,490.6h0M449.5,490.6h0M453.1,490.6h0M440.6,492.4h0M447.7,492.4h0M454.8,492.4h0M442.3,494.2h0M445.9,494.2h0M449.5,494.2h0M453.1,494.2h0M444.1,496.0h0M451.3,496.0h0M442.3,497.8h0M445.9,497.8h0M449.5,497.8h0M453.1,497.8h0M440.6,499.5h0M447.7,499.5h0M454.8,499.5h0" stroke="#000" stroke-width="2.0" stroke-linecap="round" fill="none"/>
<rect x="438.45" y="483.4" width="18.6" height="18" fill="none" stroke="#000" stroke-width="2.3"/>
<g transform="translate(482.9,497.65) scale(0.95,1) translate(-5.866,0)" ><path transform="translate(0,0) scale(21.1)" d="M0.3726,0H0.2847V-0.5377Q0.2529,-0.5086,0.2014,-0.4795Q0.1499,-0.4504,0.1089,-0.4359V-0.5175Q0.1826,-0.5508,0.2378,-0.5981Q0.293,-0.6455,0.3159,-0.69H0.3726Z"/></g>
<rect x="437.5" y="508.3" width="20.8" height="20" fill="#000"/>
<g transform="translate(479.4,522.75) scale(0.937,1) translate(-11.565,0)" ><path transform="translate(0,0) scale(20.8)" d="M0.3726,0H0.2847V-0.5377Q0.2529,-0.5086,0.2014,-0.4795Q0.1499,-0.4504,0.1089,-0.4359V-0.5175Q0.1826,-0.5508,0.2378,-0.5981Q0.293,-0.6455,0.3159,-0.69H0.3726Z"/><text x="11.565" y="0" font-size="20.8" font-family='"Liberation Sans", sans-serif' xml:space="preserve">0</text></g>
<text transform="translate(433.21,553.86) scale(1.043,1)" font-size="18.98" text-anchor="start" font-family='"Liberation Sans", sans-serif' >(ng/ml)</text>
</svg></body></html>
